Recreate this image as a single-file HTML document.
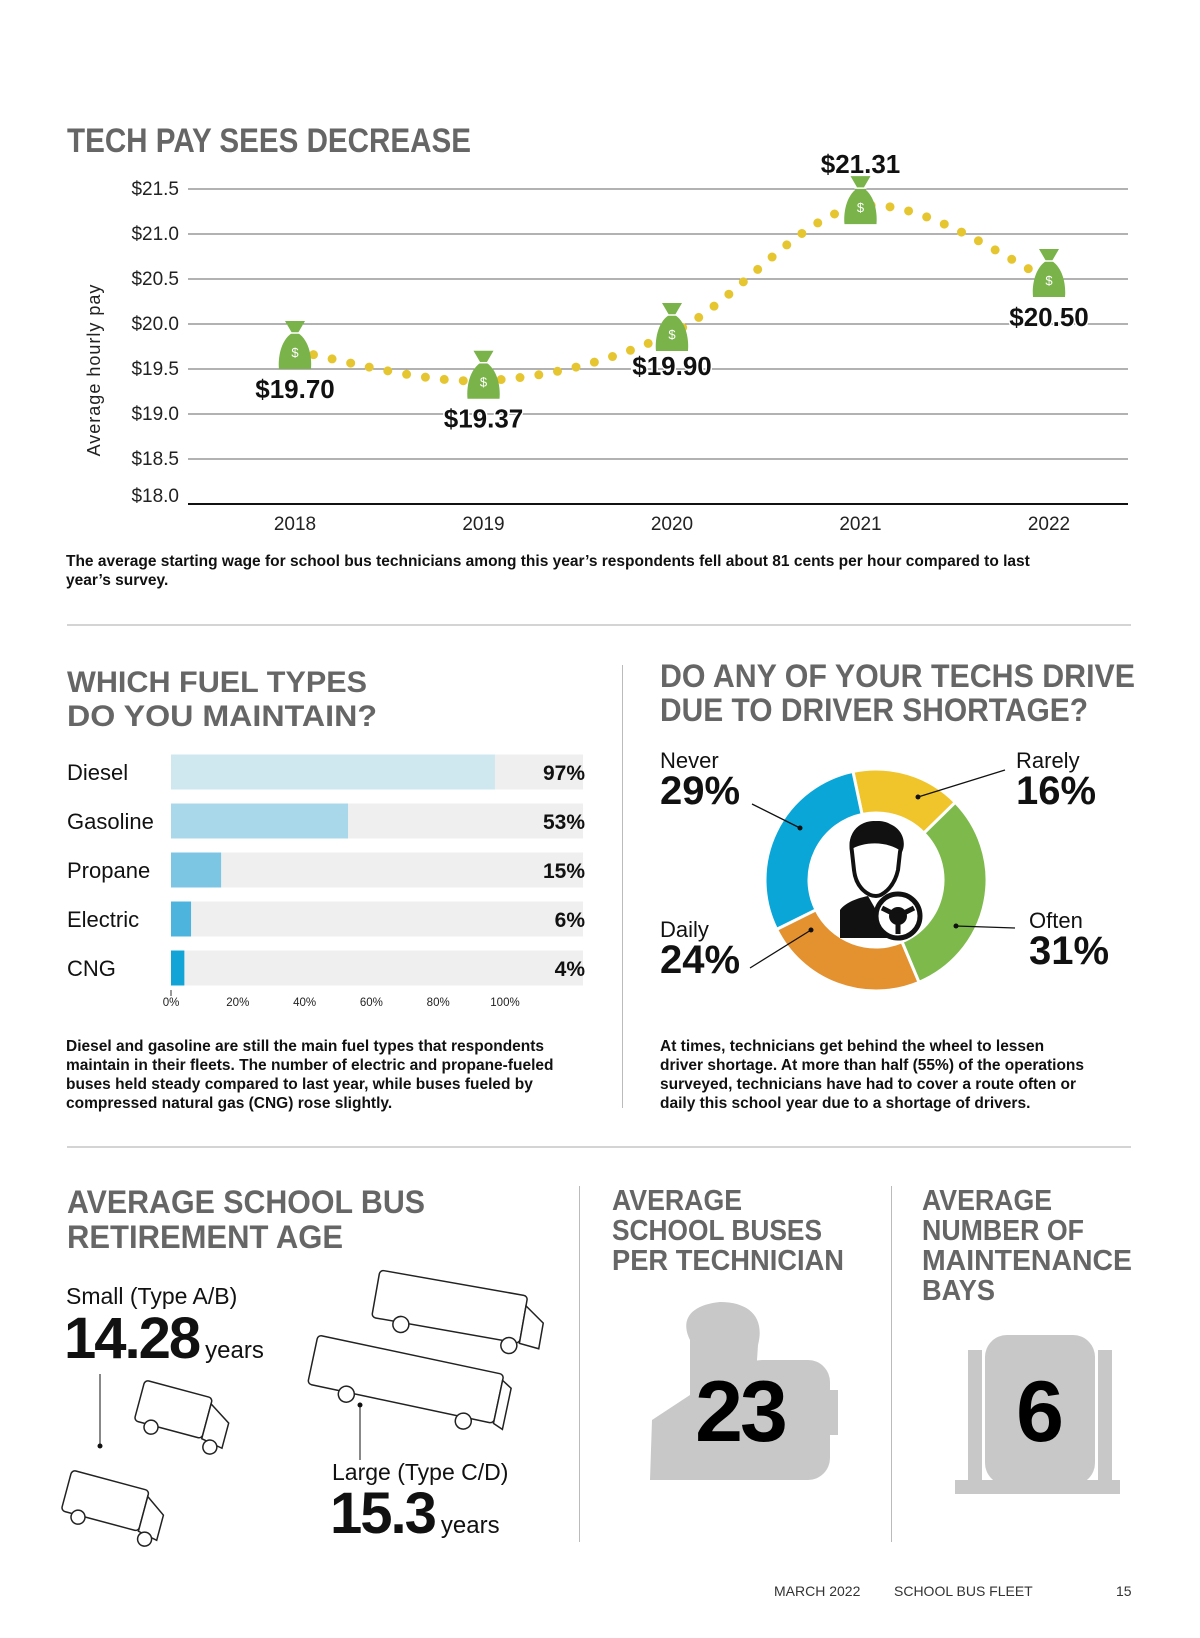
<!DOCTYPE html>
<html><head><meta charset="utf-8"><style>
html,body{margin:0;padding:0;background:#fff;}
svg{display:block;font-family:"Liberation Sans",sans-serif;}
.t{font-weight:bold;fill:#666;}
</style></head><body>
<svg id="page" width="1200" height="1638" viewBox="0 0 1200 1638" xmlns="http://www.w3.org/2000/svg">
<g id="s1">
<text class="t" x="67" y="152" font-size="34" textLength="404" lengthAdjust="spacingAndGlyphs">TECH PAY SEES DECREASE</text>
<g id="payAxis"></g>
<g id="payLine"></g>
<g id="payMarks"></g>
<text transform="translate(100,370) rotate(-90)" text-anchor="middle" font-size="18" fill="#222" letter-spacing="1">Average hourly pay</text>
<text x="66" y="566" font-size="15.5" font-weight="bold" fill="#111">The average starting wage for school bus technicians among this year’s respondents fell about 81 cents per hour compared to last</text>
<text x="66" y="585" font-size="15.5" font-weight="bold" fill="#111">year’s survey.</text>
<line x1="67" y1="625" x2="1131" y2="625" stroke="#aaa" stroke-width="1"/>
</g>

<g id="s2">
<text class="t" x="67" y="692" font-size="30" textLength="300" lengthAdjust="spacingAndGlyphs">WHICH FUEL TYPES</text>
<text class="t" x="67" y="726" font-size="30" textLength="310" lengthAdjust="spacingAndGlyphs">DO YOU MAINTAIN?</text>
<g id="fuelBars"></g>
<text x="66" y="1051" font-size="15.5" font-weight="bold" fill="#111">Diesel and gasoline are still the main fuel types that respondents</text>
<text x="66" y="1070" font-size="15.5" font-weight="bold" fill="#111">maintain in their fleets. The number of electric and propane-fueled</text>
<text x="66" y="1089" font-size="15.5" font-weight="bold" fill="#111">buses held steady compared to last year, while buses fueled by</text>
<text x="66" y="1108" font-size="15.5" font-weight="bold" fill="#111">compressed natural gas (CNG) rose slightly.</text>
<line x1="622.5" y1="665" x2="622.5" y2="1108" stroke="#bbb"/>
<text class="t" x="660" y="687" font-size="32" textLength="475" lengthAdjust="spacingAndGlyphs">DO ANY OF YOUR TECHS DRIVE</text>
<text class="t" x="660" y="721" font-size="32" textLength="428" lengthAdjust="spacingAndGlyphs">DUE TO DRIVER SHORTAGE?</text>
<g id="donut"></g>
<g transform="translate(876,880)">
<path d="M-24,-28 C-28,-52 -8,-60 4,-56 C20,-54 28,-44 24,-28 L22,-10 C18,8 6,16 0,16 C-8,16 -20,8 -22,-10 Z" fill="#fff" stroke="#111" stroke-width="4"/>
<path d="M-26,-30 C-30,-56 0,-64 14,-56 C28,-50 30,-36 26,-28 C14,-38 -10,-40 -26,-30 Z" fill="#111"/>
<path d="M-36,58 L-36,30 C-30,22 -18,18 -8,16 L0,30 L8,16 C16,18 26,22 30,26 L20,58 Z" fill="#111"/>
<circle cx="22" cy="36" r="22" fill="#fff" stroke="#111" stroke-width="5"/>
<circle cx="22" cy="36" r="9" fill="#111"/>
<path d="M22,36 L6,28 M22,36 L38,28 M22,36 L22,54" stroke="#111" stroke-width="5"/>
</g>
<text x="660" y="1051" font-size="15.5" font-weight="bold" fill="#111">At times, technicians get behind the wheel to lessen</text>
<text x="660" y="1070" font-size="15.5" font-weight="bold" fill="#111">driver shortage. At more than half (55%) of the operations</text>
<text x="660" y="1089" font-size="15.5" font-weight="bold" fill="#111">surveyed, technicians have had to cover a route often or</text>
<text x="660" y="1108" font-size="15.5" font-weight="bold" fill="#111">daily this school year due to a shortage of drivers.</text>
<line x1="67" y1="1147" x2="1131" y2="1147" stroke="#aaa"/>
</g>

<g id="s3">
<text class="t" x="67" y="1213" font-size="32" textLength="358" lengthAdjust="spacingAndGlyphs">AVERAGE SCHOOL BUS</text>
<text class="t" x="67" y="1248" font-size="32" textLength="276" lengthAdjust="spacingAndGlyphs">RETIREMENT AGE</text>
<text x="66" y="1304" font-size="23" fill="#111">Small (Type A/B)</text>
<text x="64" y="1358" font-size="58" font-weight="bold" fill="#111" letter-spacing="-2">14.28<tspan font-size="24" font-weight="normal" letter-spacing="0" dx="6">years</tspan></text>
<line x1="100" y1="1374" x2="100" y2="1446" stroke="#111"/>
<circle cx="100" cy="1446" r="2.5" fill="#111"/>
<text x="332" y="1480" font-size="23" fill="#111">Large (Type C/D)</text>
<text x="330" y="1533" font-size="58" font-weight="bold" fill="#111" letter-spacing="-2">15.3<tspan font-size="24" font-weight="normal" letter-spacing="0" dx="6">years</tspan></text>
<line x1="360" y1="1405" x2="360" y2="1460" stroke="#111"/>
<circle cx="360" cy="1405" r="2.5" fill="#111"/>
<g fill="#fff" stroke="#222" stroke-width="1.5">
<g transform="translate(380,1270) rotate(10)"><rect x="0" y="0" width="150" height="48" rx="4"/><path d="M150,10 L170,24 L170,50 L150,48 Z"/><circle cx="30" cy="50" r="8"/><circle cx="140" cy="52" r="8"/></g>
<g transform="translate(318,1335) rotate(12)"><rect x="0" y="0" width="190" height="50" rx="4"/><path d="M190,6 L200,12 L200,54 L190,50 Z"/><circle cx="40" cy="52" r="8"/><circle cx="160" cy="54" r="8"/></g>
<g transform="translate(145,1380) rotate(15)"><rect x="0" y="0" width="70" height="42" rx="4"/><path d="M70,6 L92,20 L92,46 L70,42 Z"/><circle cx="18" cy="44" r="7"/><circle cx="80" cy="48" r="7"/></g>
<g transform="translate(72,1470) rotate(15)"><rect x="0" y="0" width="80" height="42" rx="4"/><path d="M80,6 L100,20 L100,46 L80,42 Z"/><circle cx="18" cy="44" r="7"/><circle cx="88" cy="48" r="7"/></g>
</g>
<line x1="579.5" y1="1186" x2="579.5" y2="1542" stroke="#bbb"/>
<line x1="891.5" y1="1186" x2="891.5" y2="1542" stroke="#bbb"/>
<text class="t" x="612" y="1210" font-size="29" textLength="130" lengthAdjust="spacingAndGlyphs">AVERAGE</text>
<text class="t" x="612" y="1240" font-size="29" textLength="210" lengthAdjust="spacingAndGlyphs">SCHOOL BUSES</text>
<text class="t" x="612" y="1270" font-size="29" textLength="232" lengthAdjust="spacingAndGlyphs">PER TECHNICIAN</text>
<text class="t" x="922" y="1210" font-size="29" textLength="130" lengthAdjust="spacingAndGlyphs">AVERAGE</text>
<text class="t" x="922" y="1240" font-size="29" textLength="162" lengthAdjust="spacingAndGlyphs">NUMBER OF</text>
<text class="t" x="922" y="1270" font-size="29" textLength="210" lengthAdjust="spacingAndGlyphs">MAINTENANCE</text>
<text class="t" x="922" y="1300" font-size="29" textLength="73" lengthAdjust="spacingAndGlyphs">BAYS</text>
<g fill="#c8c8c8">
<path d="M690,1340 C680,1320 690,1305 720,1302 C750,1302 765,1318 758,1345 L755,1390 L800,1405 L800,1480 L650,1480 L652,1420 L690,1395 Z"/>
<rect x="740" y="1360" width="90" height="120" rx="22"/>
<rect x="828" y="1390" width="10" height="45"/>
</g>
<text x="740" y="1441" font-size="86" font-weight="bold" fill="#000" text-anchor="middle" letter-spacing="-3">23</text>
<g fill="#c8c8c8">
<rect x="985" y="1335" width="110" height="150" rx="22"/>
<rect x="968" y="1350" width="14" height="130"/><rect x="1098" y="1350" width="14" height="130"/>
<rect x="955" y="1480" width="165" height="14"/>
</g>
<text x="1040" y="1441" font-size="86" font-weight="bold" fill="#000" text-anchor="middle">6</text>
</g>

<g>
<text x="774" y="1596" font-size="14" fill="#333">MARCH 2022</text>
<text x="894" y="1596" font-size="14" fill="#333">SCHOOL BUS FLEET</text>
<text x="1116" y="1596" font-size="14" fill="#333">15</text>
</g>
</svg>
<script>
const NS='http://www.w3.org/2000/svg';
const years=['2018','2019','2020','2021','2022'];
const payValues=[19.70,19.37,19.90,21.31,20.50];
const payLabels=['$19.70','$19.37','$19.90','$21.31','$20.50'];
const yTicks=[18.0,18.5,19.0,19.5,20.0,20.5,21.0,21.5];
const yTickLabels=['$18.0','$18.5','$19.0','$19.5','$20.0','$20.5','$21.0','$21.5'];
const labelSide=['below','below','below','above','below'];
const fuelTypes=['Diesel','Gasoline','Propane','Electric','CNG'];
const fuelValues=[97,53,15,6,4];
const fuelTicks=[0,20,40,60,80,100];
const shortageLabels=['Rarely','Often','Daily','Never'];
const shortageValues=[16,31,24,29];

function mk(tag,attrs,parent,text){const e=document.createElementNS(NS,tag);for(const k in attrs)e.setAttribute(k,attrs[k]);if(text!==undefined)e.textContent=text;parent.appendChild(e);return e;}
const xS=i=>295+i*188.5;
const yS=v=>504-(v-18)*90;
const ax=document.getElementById('payAxis');
yTicks.forEach((t,i)=>{
  const l=mk('line',{x1:188,x2:1128,y1:yS(t),y2:yS(t),stroke:i===0?'#111':'#666','stroke-width':i===0?2:1},ax);
  
  
  const tx=mk('text',{x:179,y:yS(t)+(i===0?-2:6),'text-anchor':'end','font-size':19,fill:'#222'},ax,yTickLabels[i]);
  
  
});
years.forEach((y,i)=>{
  const tx=mk('text',{x:xS(i),y:530,'text-anchor':'middle','font-size':19,fill:'#222'},ax,y);
  
  
});
const pts=payValues.map((v,i)=>[xS(i),yS(v)]);
let d='M'+pts[0][0]+','+pts[0][1];
for(let i=0;i<pts.length-1;i++){
  const p0=pts[Math.max(0,i-1)],p1=pts[i],p2=pts[i+1],p3=pts[Math.min(pts.length-1,i+2)];
  const c1=[p1[0]+(p2[0]-p0[0])/6,p1[1]+(p2[1]-p0[1])/6],c2=[p2[0]-(p3[0]-p1[0])/6,p2[1]-(p3[1]-p1[1])/6];
  d+=` C${c1[0]},${c1[1]} ${c2[0]},${c2[1]} ${p2[0]},${p2[1]}`;
}
const pl=mk('path',{d:d,fill:'none',stroke:'#e6c630','stroke-width':9,'stroke-linecap':'round','stroke-dasharray':'0 19'},document.getElementById('payLine'));


const pm=document.getElementById('payMarks');
pts.forEach((p,i)=>{
  const g=mk('g',{transform:`translate(${p[0]},${p[1]})`},pm);
  
  
  mk('path',{d:'M-10,-30 L10,-30 L3,-18 C15,-10 17,8 16,18 L-16,18 C-17,8 -15,-10 -3,-18 Z',fill:'#79b349'},g);
  mk('line',{x1:-6,x2:6,y1:-18,y2:-18,stroke:'#fff','stroke-width':1.5},g);
  mk('text',{x:0,y:6,'text-anchor':'middle','font-size':13,fill:'#fff'},g,'$');
  const ly=labelSide[i]==='above'?p[1]-33:p[1]+(i===2?42:47);
  const lt=mk('text',{x:p[0],y:ly,'text-anchor':'middle','font-size':26,'font-weight':'bold',fill:'#111',stroke:'#fff','stroke-width':3,'paint-order':'stroke'},pm,payLabels[i]);
  
  
});
const fb=document.getElementById('fuelBars');
const fx=v=>171+v*3.34;
const fColors=['#cfe8ef','#a8d8ea','#7cc6e4','#4db4dd','#12a4d6'];
fuelTypes.forEach((f,i)=>{
  const cy=772+i*49;
  const bg=mk('rect',{x:171,y:cy-17.5,width:412,height:35,fill:'#efefef'},fb);
  
  
  const r=mk('rect',{x:171,y:cy-17.5,width:fx(fuelValues[i])-171,height:35,fill:fColors[i]},fb);
  
  
  const l=mk('text',{x:67,y:cy+8,'font-size':22,fill:'#111'},fb,f);
  
  
  const v=mk('text',{x:585,y:cy+8,'text-anchor':'end','font-size':21,'font-weight':'bold',fill:'#111'},fb,fuelValues[i]+'%');
  
  
});
mk('line',{x1:171,x2:171,y1:990,y2:996,stroke:'#333'},fb);
fuelTicks.forEach(t=>{
  const tx=mk('text',{x:fx(t),y:1006,'text-anchor':'middle','font-size':11.5,fill:'#222'},fb,t+'%');
  
  
});
const dn=document.getElementById('donut');
const cx=876,cy=880,R=111,r0=67;
const dColors=['#f0c52b','#7dba4b','#e49130','#0aa6d8'];
const total=shortageValues.reduce((a,b)=>a+b,0);
let ang=-12;
function pt(a,rr){const t=(a-90)*Math.PI/180;return [cx+rr*Math.cos(t),cy+rr*Math.sin(t)];}
const anchorMid=[];
shortageValues.forEach((v,i)=>{
  const sweep=v/total*360,a2=ang+sweep;
  const [x1,y1]=pt(ang,R),[x2,y2]=pt(a2,R),[x3,y3]=pt(a2,r0),[x4,y4]=pt(ang,r0);
  const lg=sweep>180?1:0;
  const p=mk('path',{d:`M${x1},${y1} A${R},${R} 0 ${lg} 1 ${x2},${y2} L${x3},${y3} A${r0},${r0} 0 ${lg} 0 ${x4},${y4} Z`,fill:dColors[i],stroke:'#fff','stroke-width':3},dn);
  
  
  anchorMid.push(ang+sweep/2);
  ang=a2;
});
const lab=[{x:1016,y:768,lx:1005,ly:770,ax:918,ay:797},{x:1029,y:928,lx:1015,ly:928,ax:956,ay:926},{x:660,y:937,lx:750,ly:968,ax:811,ay:930},{x:660,y:768,lx:752,ly:804,ax:800,ay:828}];
lab.forEach((L,i)=>{
  const t=mk('text',{x:L.x,y:L.y,'font-size':22,fill:'#111'},dn,shortageLabels[i]);
  
  
  const v=mk('text',{x:L.x,y:L.y+36,'font-size':40,'font-weight':'bold',fill:'#111'},dn,shortageValues[i]+'%');
  
  
  mk('line',{x1:L.lx,y1:L.ly,x2:L.ax,y2:L.ay,stroke:'#111','stroke-width':1.3},dn);
  mk('circle',{cx:L.ax,cy:L.ay,r:2.5,fill:'#111'},dn);
});
</script>
</body></html>
